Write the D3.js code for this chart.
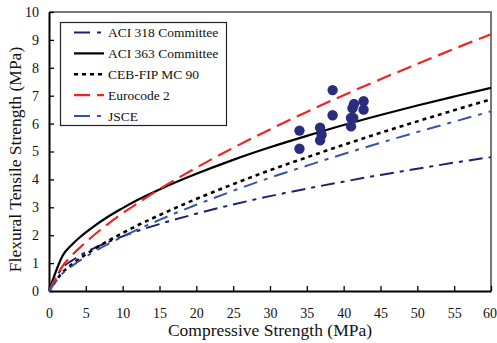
<!DOCTYPE html>
<html>
<head>
<meta charset="utf-8">
<script src="https://cdn.jsdelivr.net/npm/d3@7"></script>
<style>
  body { margin: 0; background: #fff; }
  svg { display: block; }
  svg text { font-family: "Liberation Serif", "Times New Roman", Times, serif !important; font-weight: normal; }
</style>
</head>
<body>
<div id="chart"></div>
<script>
// Compressive strength points used for the model curves (MPa)
const fcValues = [0, 2, 3, 4, 5, 6, 8, 10, 12, 15, 20, 25, 30, 35, 40, 45, 50, 55, 60];

// Flexural tensile strength (MPa)
const aci318 = [0, 0.88, 1.07, 1.24, 1.39, 1.52, 1.75, 1.96, 2.15, 2.40, 2.77, 3.10, 3.40, 3.67, 3.92, 4.16, 4.38, 4.60, 4.80];
const aci363 = [0, 1.33, 1.63, 1.88, 2.10, 2.30, 2.66, 2.97, 3.26, 3.64, 4.20, 4.70, 5.15, 5.56, 5.95, 6.31, 6.65, 6.97, 7.28];
const cebFip = [0, 0.71, 0.93, 1.13, 1.31, 1.48, 1.79, 2.08, 2.35, 2.72, 3.30, 3.83, 4.33, 4.79, 5.24, 5.67, 6.08, 6.48, 6.87];
const eurocode = [0, 0.95, 1.25, 1.51, 1.75, 1.98, 2.40, 2.79, 3.14, 3.65, 4.42, 5.13, 5.79, 6.42, 7.02, 7.59, 8.14, 8.68, 9.20];
const jsce = [0, 0.67, 0.87, 1.06, 1.23, 1.39, 1.68, 1.95, 2.20, 2.55, 3.09, 3.59, 4.06, 4.49, 4.91, 5.31, 5.70, 6.07, 6.44];

// Test results
const testFc = [34.0, 34.0, 36.8, 37.0, 36.8, 38.5, 38.5, 41.2, 41.4, 41.0, 41.3, 41.0, 42.7, 42.7];
const testFr = [5.75, 5.10, 5.85, 5.60, 5.40, 7.20, 6.30, 6.55, 6.70, 6.20, 6.20, 5.90, 6.80, 6.50];

const xTicks = [0, 5, 10, 15, 20, 25, 30, 35, 40, 45, 50, 55, 60];
const yTicks = [0, 1, 2, 3, 4, 5, 6, 7, 8, 9, 10];

const series = [
    { name: "ACI 318 Committee", values: aci318, color: "#1e206e", dash: "14,6,4,6", legendDash: "16,7,4,7", width: 2 },
    { name: "ACI 363 Committee", values: aci363, color: "#000000", dash: null, legendDash: null, width: 2.2 },
    { name: "CEB-FIP MC 90", values: cebFip, color: "#000000", dash: "4,4", legendDash: "4,4", width: 2.6 },
    { name: "Eurocode 2", values: eurocode, color: "#ee2326", dash: "15,7", legendDash: "16,7", width: 2.2 },
    { name: "JSCE", values: jsce, color: "#3354a8", dash: "14,7,4,7", legendDash: "16,7,4,7", width: 2 }
];

const width = 497, height = 343;
const margin = { left: 49, right: 6, top: 12, bottom: 52 };
const font = "Liberation Serif";

const svg = d3.select("#chart")
    .append("svg")
    .attr("width", width)
    .attr("height", height)
    .attr("font-family", font);

const x = d3.scaleLinear().domain([0, 60]).range([margin.left, width - margin.right]);
const y = d3.scaleLinear().domain([0, 10]).range([height - margin.bottom, margin.top]);

// top and right frame (grey)
svg.append("path")
    .attr("d", `M${x(0)},${y(10)} L${x(60)},${y(10)} L${x(60)},${y(0)}`)
    .attr("fill", "none")
    .attr("stroke", "#777")
    .attr("stroke-width", 2);

// axes with inward ticks
const xAxis = svg.append("g")
    .attr("transform", `translate(0,${y(0)})`)
    .call(d3.axisBottom(x).tickValues(xTicks).tickSize(-5).tickPadding(17).tickSizeOuter(0));
const yAxis = svg.append("g")
    .attr("transform", `translate(${x(0)},0)`)
    .call(d3.axisLeft(y).tickValues(yTicks).tickSize(-5).tickPadding(10).tickSizeOuter(0));

[xAxis, yAxis].forEach(g => {
    g.attr("font-family", font).attr("font-size", 14);
    g.select(".domain").attr("stroke", "#000").attr("stroke-width", 2);
    g.selectAll(".tick line").attr("stroke", "#000").attr("stroke-width", 1.3);
    g.selectAll(".tick text").attr("fill", "#111");
});
// keep the last x label inside the page
xAxis.selectAll(".tick text").filter(d => d === 60).attr("dx", -1.5);

// curves
const line = d3.line()
    .x((d, i) => x(fcValues[i]))
    .y(d => y(d))
    .curve(d3.curveMonotoneX);

series.forEach(s => {
    svg.append("path")
        .datum(s.values)
        .attr("d", line)
        .attr("fill", "none")
        .attr("stroke", s.color)
        .attr("stroke-width", s.width)
        .attr("stroke-dasharray", s.dash);
});

// test data points
svg.selectAll("circle.pt")
    .data(testFc.map((d, i) => [d, testFr[i]]))
    .enter()
    .append("circle")
    .attr("class", "pt")
    .attr("cx", d => x(d[0]))
    .attr("cy", d => y(d[1]))
    .attr("r", 5.2)
    .attr("fill", "#2b2d7c");

// axis titles
svg.append("text")
    .attr("x", (x(0) + x(60)) / 2)
    .attr("y", 336)
    .attr("text-anchor", "middle")
    .attr("font-size", 17.5)
    .attr("fill", "#111")
    .text("Compressive Strength (MPa)");

svg.append("text")
    .attr("transform", `translate(21,${(y(0) + y(10)) / 2 + 8}) rotate(-90)`)
    .attr("text-anchor", "middle")
    .attr("font-size", 17.5)
    .attr("fill", "#111")
    .text("Flexural Tensile Strength (MPa)");

// legend
const legend = svg.append("g");
legend.append("rect")
    .attr("x", 60.5)
    .attr("y", 22.5)
    .attr("width", 166)
    .attr("height", 103)
    .attr("fill", "#fff")
    .attr("stroke", "#222")
    .attr("stroke-width", 1.2);

series.forEach((s, i) => {
    const ly = 32.5 + i * 20.9;
    legend.append("line")
        .attr("x1", 74).attr("x2", 104)
        .attr("y1", ly).attr("y2", ly)
        .attr("stroke", s.color)
        .attr("stroke-width", s.width)
        .attr("stroke-dasharray", s.legendDash);
    legend.append("text")
        .attr("x", 108)
        .attr("y", ly + 4.5)
        .attr("font-size", 13.5)
        .attr("fill", "#111")
        .text(s.name);
});
</script>
</body>
</html>
